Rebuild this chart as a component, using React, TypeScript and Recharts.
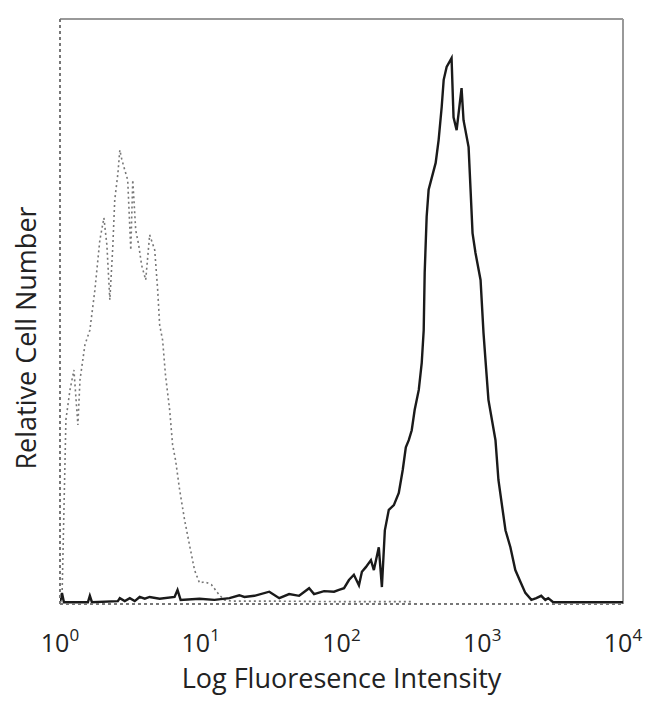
import React from 'react';
import { LineChart, Line, XAxis, YAxis, ReferenceLine } from 'recharts';

// x values are log10(fluorescence intensity), y values relative cell number
const controlLog = [0.014,0.042,0.071,0.099,0.127,0.142,0.177,0.212,0.248,0.269,0.283,0.312,0.333,0.354,0.375,0.389,0.411,0.425,0.439,0.460,0.481,0.503,0.517,0.538,0.559,0.580,0.609,0.637,0.673,0.694,0.708,0.729,0.750,0.779,0.800,0.821,0.850,0.885,0.920,0.956,0.991,1.027,1.076,1.133,1.168,1.218,1.5,2.0,2.5];
const controlCount = [0.7,31.5,36.6,40.0,30.6,38.3,44.3,46.8,53.7,58.8,62.2,66.0,61.4,52.0,61.0,69.1,73.5,77.6,76.0,74.2,72.5,60.5,72.5,63.9,61.4,57.9,55.4,63.1,60.5,53.7,47.7,45.1,39.0,33.2,27.2,24.6,19.5,14.4,10.1,5.8,3.6,3.8,3.3,1.5,0.7,0.5,0.5,0.4,0.4];

const stainedLog = [0,0.014,0.028,0.198,0.212,0.227,0.411,0.425,0.460,0.496,0.531,0.566,0.602,0.637,0.708,0.814,0.835,0.857,0.991,1.097,1.204,1.274,1.310,1.381,1.487,1.558,1.628,1.699,1.770,1.805,1.876,1.947,1.982,2.018,2.053,2.088,2.124,2.145,2.173,2.209,2.230,2.265,2.287,2.308,2.336,2.372,2.407,2.435,2.457,2.478,2.499,2.520,2.549,2.570,2.584,2.591,2.605,2.619,2.669,2.690,2.712,2.726,2.747,2.782,2.796,2.818,2.853,2.867,2.903,2.917,2.931,2.952,2.988,3.009,3.023,3.044,3.094,3.115,3.165,3.200,3.235,3.271,3.306,3.349,3.384,3.419,3.448,3.469,3.504,4.0];
const stainedCount = [0.3,1.9,0.3,0.3,1.4,0.3,0.5,1.0,0.5,1.0,0.5,1.2,0.9,1.2,0.9,1.2,2.4,0.7,0.9,0.7,1.0,1.5,1.2,1.4,2.1,1.0,1.7,1.4,2.7,1.7,2.2,2.1,2.4,2.7,4.1,5.0,3.2,5.5,6.3,7.5,5.8,9.7,2.9,12.6,16.1,16.9,19.0,22.9,26.8,28.0,29.7,33.2,36.6,41.2,46.8,56.6,66.2,70.8,75.4,79.3,85.0,89.6,91.8,93.3,83.2,81.0,88.2,82.7,78.1,70.8,63.4,60.0,55.4,46.3,41.7,34.9,28.0,21.2,12.6,9.7,5.8,3.8,1.9,0.7,1.0,1.4,0.7,1.0,0.3,0.3];

const decadeTicks = [0, 1, 2, 3, 4];

const controlData = controlLog.map((x, i) => ({ x, y: controlCount[i] }));
const stainedData = stainedLog.map((x, i) => ({ x, y: stainedCount[i] }));

const FONT = '"Open Sans", "DejaVu Sans", sans-serif';

const DecadeTick = (props: any) => {
  const { x, y, payload } = props;
  return (
    <text x={x} y={y + 40} textAnchor="middle" fill="#222" fontFamily={FONT} fontSize={25}>
      <tspan>10</tspan>
      <tspan dy={-11} fontSize={17}>{payload.value}</tspan>
    </text>
  );
};

const YTitle = () => (
  <text
    x={25}
    y={338}
    transform="rotate(-90 25 338)"
    textAnchor="middle"
    dominantBaseline="central"
    fill="#222"
    fontFamily={FONT}
    fontSize={27}
  >
    Relative Cell Number
  </text>
);

export default function App() {
  return (
    <div style={{ position: 'absolute', left: 0, top: 0, background: '#fff' }}>
      <LineChart
        width={650}
        height={704}
        margin={{ top: 19, right: 27, left: 0, bottom: 0 }}
      >
        <XAxis
          type="number"
          dataKey="x"
          domain={[0, 4]}
          ticks={decadeTicks}
          allowDataOverflow
          tick={<DecadeTick />}
          tickLine={false}
          axisLine={{ stroke: '#777', strokeWidth: 2, strokeDasharray: '3 3' }}
          height={100}
          label={{
            value: 'Log Fluoresence Intensity',
            position: 'insideBottom',
            offset: 16,
            fill: '#222',
            fontSize: 27,
            fontFamily: FONT,
          }}
        />
        <YAxis
          type="number"
          dataKey="y"
          domain={[0, 100]}
          tick={false}
          tickLine={false}
          width={60}
          axisLine={{ stroke: '#777', strokeWidth: 2, strokeDasharray: '3 3' }}
          label={<YTitle />}
        />
        <ReferenceLine y={100} stroke="#999" strokeWidth={2} />
        <ReferenceLine x={4} stroke="#999" strokeWidth={2} />
        <Line
          data={controlData}
          dataKey="y"
          type="linear"
          stroke="#777"
          strokeWidth={1.6}
          strokeDasharray="2 3"
          dot={false}
          isAnimationActive={false}
        />
        <Line
          data={stainedData}
          dataKey="y"
          type="linear"
          stroke="#1a1a1a"
          strokeWidth={2.4}
          dot={false}
          isAnimationActive={false}
        />
      </LineChart>
    </div>
  );
}
